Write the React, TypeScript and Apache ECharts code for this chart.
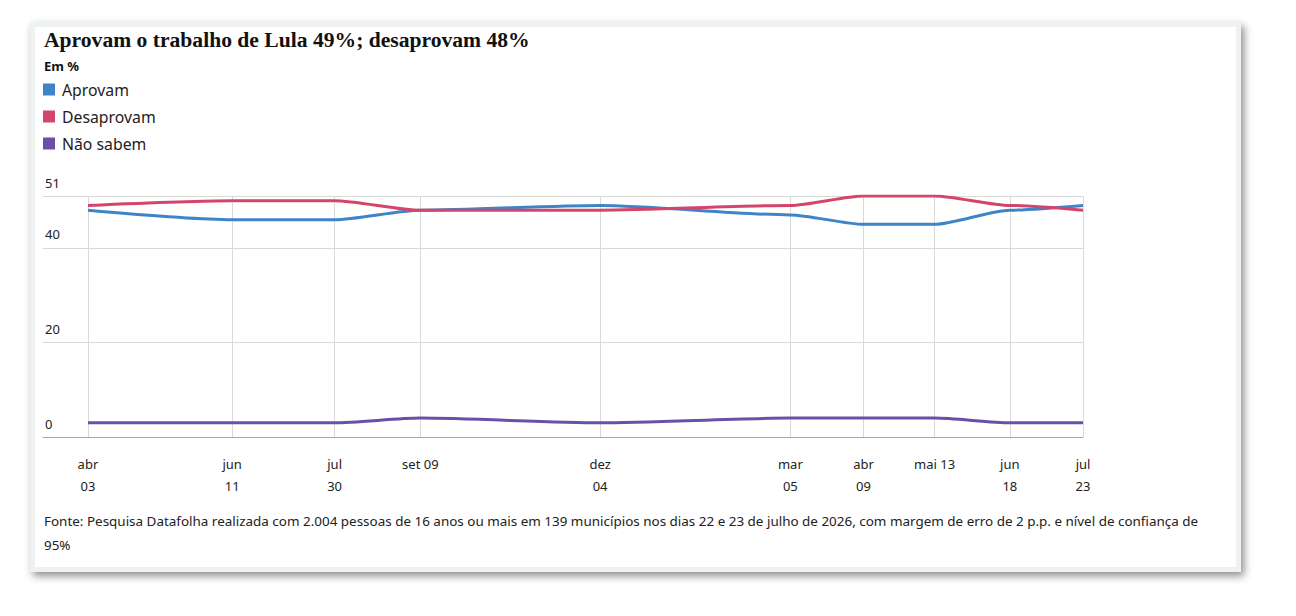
import React, { useEffect, useRef } from "react";
import * as echarts from "echarts";

const dates = [
  "2025-04-03", "2025-06-11", "2025-07-30", "2025-09-09", "2025-12-04",
  "2026-03-05", "2026-04-09", "2026-05-13", "2026-06-18", "2026-07-23",
];
const tickLabels = [
  "abr\n03", "jun\n11", "jul\n30", "set 09", "dez\n04",
  "mar\n05", "abr\n09", "mai 13", "jun\n18", "jul\n23",
];
const aprovam = [48, 46, 46, 48, 49, 47, 45, 45, 48, 49];
const desaprovam = [49, 50, 50, 48, 48, 49, 51, 51, 49, 48];
const naoSabem = [3, 3, 3, 4, 3, 4, 4, 4, 3, 3];
const yTicks = [0, 20, 40, 51];

const seriesNames = ["Aprovam", "Desaprovam", "Não sabem"];
const colors = ["#3d85c8", "#d3456a", "#6a4fa8"];

const title = "Aprovam o trabalho de Lula 49%; desaprovam 48%";
const unit = "Em %";
const source =
  "Fonte: Pesquisa Datafolha realizada com 2.004 pessoas de 16 anos ou mais em 139 municípios nos dias 22 e 23 de julho de 2026, com margem de erro de 2 p.p. e nível de confiança de\n95%";

// day numbers (days since epoch, UTC)
const toDay = (d: string) => {
  const [y, m, dd] = d.split("-").map(Number);
  return Date.UTC(y, m - 1, dd) / 86400000;
};
const days = dates.map(toDay);
const LEFT_PAD_DAYS = 21.5;

const SANS = '"Noto Sans", sans-serif';

export default function App() {
  const ref = useRef<HTMLDivElement>(null);
  useEffect(() => {
    if (!ref.current) return;
    const chart = echarts.init(ref.current, null, { renderer: "svg" });
    const mk = (vals: number[]) => days.map((t, i) => [t, vals[i]]);
    chart.setOption({
      animation: false,
      color: colors,
      textStyle: { fontFamily: SANS },
      graphic: [
        {
          type: "text",
          left: 44,
          top: 29,
          style: {
            text: title,
            font: 'bold 21.6px "Liberation Serif", serif',
            fill: "#111",
          },
        },
        {
          type: "text",
          left: 44,
          top: 59,
          style: { text: unit, font: `bold 13px ${SANS}`, fill: "#111" },
        },
        {
          type: "text",
          left: 44,
          top: 509,
          style: {
            text: source,
            font: `13.45px ${SANS}`,
            lineHeight: 24,
            fill: "#222",
          },
        },
      ],
      legend: {
        orient: "vertical",
        left: 43,
        top: 81.5,
        padding: 0,
        icon: "rect",
        itemWidth: 12,
        itemHeight: 12,
        itemGap: 11,
        data: seriesNames,
        textStyle: {
          fontSize: 15.8,
          lineHeight: 15,
          color: "#222",
          fontFamily: SANS,
          padding: [0, 0, 0, 2],
        },
      },
      grid: { left: 43, right: 213, top: 196, bottom: 179 },
      xAxis: {
        type: "value",
        min: days[0] - LEFT_PAD_DAYS,
        max: days[days.length - 1],
        axisLine: { show: true, lineStyle: { color: "#a6a6a6", width: 1 } },
        axisTick: { show: false, customValues: days },
        splitLine: { show: true, lineStyle: { color: "#d9d9d9", width: 1 } },
        axisLabel: {
          customValues: days,
          formatter: (v: number) => {
            const i = days.indexOf(v);
            return i >= 0 ? tickLabels[i] : "";
          },
          color: "#222",
          fontSize: 13,
          lineHeight: 22,
          margin: 16,
          fontFamily: SANS,
          hideOverlap: false,
        },
      },
      yAxis: {
        type: "value",
        min: 0,
        max: 51,
        axisLine: { show: false },
        axisTick: { show: false, customValues: yTicks },
        splitLine: { show: true, lineStyle: { color: "#d9d9d9", width: 1 } },
        axisLabel: {
          customValues: yTicks,
          inside: true,
          margin: 2,
          align: "left",
          verticalAlign: "bottom",
          lineHeight: 13,
          padding: [0, 0, 7, 0],
          color: "#222",
          fontSize: 13,
          fontFamily: SANS,
        },
      },
      series: [
        { name: seriesNames[0], data: mk(aprovam) },
        { name: seriesNames[1], data: mk(desaprovam) },
        { name: seriesNames[2], data: mk(naoSabem) },
      ].map((s) => ({
        ...s,
        type: "line",
        showSymbol: false,
        smooth: 0.25,
        smoothMonotone: "x",
        lineStyle: { width: 3 },
      })),
    });
    return () => chart.dispose();
  }, []);

  return (
    <div
      style={{
        position: "fixed",
        left: 0,
        top: 0,
        width: 1296,
        height: 616,
        background: "#fff",
      }}
    >
      <div
        style={{
          position: "absolute",
          left: 30,
          top: 22,
          width: 1211,
          height: 550,
          boxSizing: "border-box",
          border: "5px solid #eef2f1",
          background: "#fff",
          boxShadow: "3px 4px 8px rgba(0,0,0,0.45)",
        }}
      />
      <div
        ref={ref}
        style={{ position: "absolute", left: 0, top: 0, width: 1296, height: 616 }}
      />
    </div>
  );
}
